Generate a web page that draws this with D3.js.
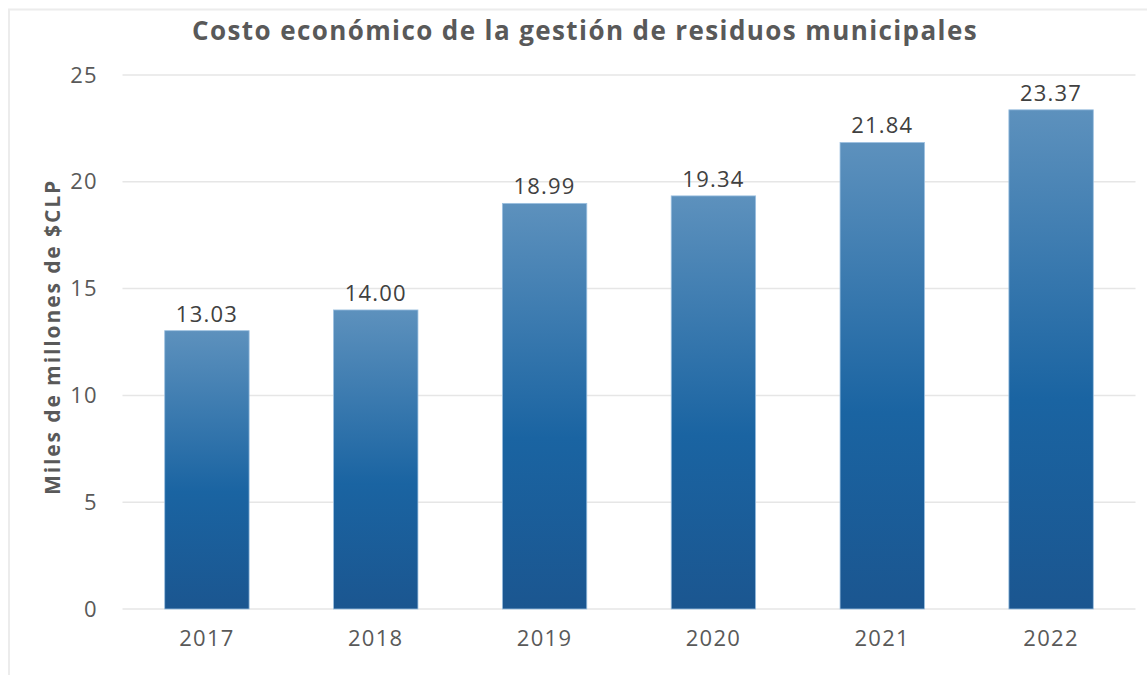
<!DOCTYPE html>
<html>
<head>
<meta charset="utf-8">
<script src="https://cdn.jsdelivr.net/npm/d3@7"></script>
<style>
  html, body { margin: 0; padding: 0; background: #ffffff; }
  svg { display: block; }
</style>
</head>
<body>
<svg id="chart" width="1147" height="675"></svg>
<script>
const categories = ["2017", "2018", "2019", "2020", "2021", "2022"];
const values = [13.03, 14.00, 18.99, 19.34, 21.84, 23.37];
const yTicks = [0, 5, 10, 15, 20, 25];
const title = "Costo económico de la gestión de residuos municipales";
const yLabel = "Miles de millones de $CLP";

const W = 1147, H = 675;
const margin = { left: 122.5, right: 11.5, top: 75, bottom: 66 };
const svg = d3.select("#chart");
const FONT = "'Open Sans', sans-serif";

// frame
svg.append("rect").attr("x", 0).attr("y", 0).attr("width", W).attr("height", H).attr("fill", "#ffffff");
svg.append("path")
  .attr("d", `M9,${H} L9,9.5 L${W},9.5`)
  .attr("fill", "none").attr("stroke", "#ececec").attr("stroke-width", 2);

const defs = svg.append("defs");
const grad = defs.append("linearGradient").attr("id", "barGrad")
  .attr("x1", 0).attr("y1", 0).attr("x2", 0).attr("y2", 1);
grad.append("stop").attr("offset", "0%").attr("stop-color", "#5d91bd");
grad.append("stop").attr("offset", "58%").attr("stop-color", "#1a64a2");
grad.append("stop").attr("offset", "100%").attr("stop-color", "#1b5690");

const x = d3.scaleBand().domain(categories)
  .range([margin.left, W - margin.right]).paddingInner(0.5).paddingOuter(0.25);
const y = d3.scaleLinear().domain([0, 25]).range([609, 75]);

// gridlines
svg.append("g").selectAll("line").data(yTicks).join("line")
  .attr("x1", margin.left).attr("x2", W - margin.right)
  .attr("y1", d => y(d)).attr("y2", d => y(d))
  .attr("stroke", "#e6e6e6").attr("stroke-width", 1.5);

// y axis labels
const yAxis = d3.axisLeft(y).tickValues(yTicks).tickSize(0).tickPadding(0);
const yg = svg.append("g").attr("transform", "translate(98,0)").call(yAxis);
yg.select(".domain").remove();
yg.selectAll("text").attr("font-family", FONT)
  .attr("font-size", 22).attr("letter-spacing", 1.3).attr("fill", "#595959");

// x axis labels
const xAxis = d3.axisBottom(x).tickSize(0).tickPadding(0);
const xg = svg.append("g").attr("transform", "translate(0,630)").call(xAxis);
xg.select(".domain").remove();
xg.selectAll("text").attr("font-family", FONT)
  .attr("font-size", 22).attr("letter-spacing", 1.3).attr("fill", "#595959");

// bars
svg.append("g").selectAll("rect").data(values).join("rect")
  .attr("x", (d, i) => x(categories[i]))
  .attr("y", d => y(d))
  .attr("width", x.bandwidth())
  .attr("height", d => y(0) - y(d))
  .attr("fill", "url(#barGrad)")
  .attr("stroke", "#9cc0e0").attr("stroke-width", 0.8);

// value labels
svg.append("g").selectAll("text").data(values).join("text")
  .attr("x", (d, i) => x(categories[i]) + x.bandwidth() / 2)
  .attr("y", d => y(d) - 9)
  .attr("text-anchor", "middle")
  .attr("font-family", FONT)
  .attr("font-size", 22).attr("letter-spacing", 1.2).attr("fill", "#404040")
  .text(d => d.toFixed(2));

// title
svg.append("text").attr("x", 585).attr("y", 40)
  .attr("text-anchor", "middle")
  .attr("font-family", FONT).attr("font-weight", "bold")
  .attr("font-size", 26).attr("letter-spacing", 1.4).attr("fill", "#595959")
  .text(title);

// y label
svg.append("text")
  .attr("transform", "translate(60,337) rotate(-90)")
  .attr("text-anchor", "middle")
  .attr("font-family", FONT).attr("font-weight", "bold")
  .attr("font-size", 21).attr("letter-spacing", 1.9).attr("fill", "#595959")
  .text(yLabel);
</script>
</body>
</html>
